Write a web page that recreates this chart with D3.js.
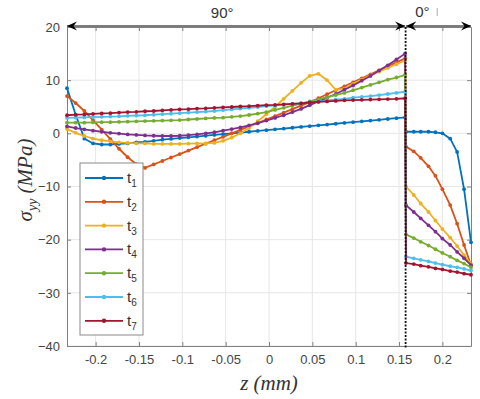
<!DOCTYPE html>
<html>
<head>
<meta charset="utf-8">
<script src="https://cdn.jsdelivr.net/npm/d3@7/dist/d3.min.js"></script>
<style>
  body { margin: 0; background: #fff; }
  svg { display: block; }
  .tick text { font-family: "Liberation Sans", Arial, sans-serif; font-size: 13px; fill: #444; }
</style>
</head>
<body>
<div id="chart"></div>
<script>
// z positions (mm) through the 90 deg ply and the 0 deg ply
var z90 = [-0.233, -0.223, -0.213, -0.203, -0.193, -0.183, -0.173, -0.163, -0.153, -0.143,
  -0.133, -0.123, -0.113, -0.103, -0.093, -0.083, -0.073, -0.063, -0.053, -0.043,
  -0.033, -0.023, -0.013, -0.003, 0.007, 0.017, 0.027, 0.037, 0.047, 0.057,
  0.067, 0.077, 0.087, 0.097, 0.107, 0.117, 0.127, 0.137, 0.147, 0.157];
var z0 = [0.158, 0.167, 0.175, 0.184, 0.192, 0.200, 0.209, 0.217, 0.225, 0.233];

// sigma_yy (MPa), 90 deg ply
var t1_90 = [8.5, 3.5, -1.0, -1.9, -2.1, -2.1, -2.0, -1.9, -1.7, -1.6,
  -1.4, -1.2, -1.05, -0.9, -0.75, -0.6, -0.45, -0.3, -0.15, 0.0,
  0.15, 0.3, 0.45, 0.6, 0.75, 0.9, 1.05, 1.2, 1.35, 1.5,
  1.65, 1.8, 1.95, 2.1, 2.25, 2.4, 2.55, 2.7, 2.85, 3.0];
var t2_90 = [7.0, 5.7, 4.2, 2.5, 0.7, -1.1, -2.9, -4.5, -5.8, -6.5,
  -5.85, -5.2, -4.55, -3.9, -3.25, -2.6, -1.95, -1.3, -0.65, 0.0,
  0.65, 1.3, 1.95, 2.6, 3.25, 3.9, 4.55, 5.2, 5.85, 6.6,
  7.35, 8.1, 8.85, 9.6, 10.35, 11.1, 11.85, 12.6, 13.35, 14.1];
var t3_90 = [0.8, 0.1, -0.5, -1.0, -1.3, -1.5, -1.7, -1.8, -1.9, -1.9,
  -2.0, -2.0, -2.0, -2.0, -1.95, -1.9, -1.9, -1.8, -1.4, -0.8,
  0.0, 1.0, 2.3, 3.6, 5.0, 6.5, 8.0, 9.5, 10.8, 11.2,
  10.0, 8.2, 8.4, 9.3, 10.1, 10.9, 11.6, 12.3, 13.0, 13.7];
var t4_90 = [1.3, 1.0, 0.75, 0.5, 0.3, 0.1, -0.05, -0.2, -0.3, -0.4,
  -0.45, -0.5, -0.5, -0.45, -0.35, -0.2, 0.0, 0.2, 0.5, 0.8,
  1.1, 1.5, 1.9, 2.4, 2.9, 3.4, 4.0, 4.6, 5.3, 6.0,
  6.7, 7.4, 8.2, 9.0, 9.9, 10.8, 11.8, 12.8, 13.9, 15.0];
var t5_90 = [2.0, 2.0, 2.0, 2.05, 2.1, 2.1, 2.15, 2.2, 2.25, 2.3,
  2.35, 2.4, 2.45, 2.5, 2.6, 2.7, 2.8, 2.9, 2.95, 3.1,
  3.25, 3.45, 3.7, 4.0, 4.4, 4.8, 5.2, 5.6, 6.0, 6.4,
  6.8, 7.2, 7.6, 8.1, 8.6, 9.1, 9.6, 10.1, 10.5, 11.0];
var t6_90 = [2.9, 2.95, 3.0, 3.05, 3.1, 3.15, 3.2, 3.3, 3.35, 3.4,
  3.5, 3.6, 3.7, 3.8, 3.9, 4.0, 4.1, 4.2, 4.35, 4.5,
  4.65, 4.8, 4.95, 5.1, 5.25, 5.4, 5.55, 5.7, 5.85, 6.0,
  6.2, 6.35, 6.5, 6.7, 6.85, 7.0, 7.2, 7.4, 7.6, 7.8];
var t7_90 = [3.4, 3.5, 3.55, 3.65, 3.75, 3.8, 3.9, 4.0, 4.05, 4.15,
  4.2, 4.3, 4.4, 4.5, 4.55, 4.65, 4.7, 4.8, 4.9, 4.95,
  5.05, 5.1, 5.2, 5.3, 5.35, 5.45, 5.55, 5.65, 5.8, 5.9,
  6.0, 6.1, 6.2, 6.25, 6.3, 6.35, 6.4, 6.45, 6.5, 6.6];

// sigma_yy (MPa), 0 deg ply
var t1_0 = [0.3, 0.3, 0.3, 0.3, 0.2, 0.0, -1.0, -3.5, -10.5, -20.5];
var t2_0 = [-2.5, -3.4, -4.6, -6.2, -8.0, -10.5, -13.5, -17.0, -21.0, -24.8];
var t3_0 = [-10.0, -11.6, -13.2, -14.8, -16.4, -18.0, -19.6, -21.2, -22.9, -24.6];
var t4_0 = [-13.5, -14.8, -16.0, -17.3, -18.5, -19.8, -21.0, -22.3, -23.5, -24.8];
var t5_0 = [-19.0, -19.7, -20.4, -21.1, -21.8, -22.5, -23.2, -23.9, -24.5, -25.2];
var t6_0 = [-23.2, -23.5, -23.8, -24.1, -24.4, -24.7, -25.0, -25.2, -25.5, -25.8];
var t7_0 = [-24.4, -24.6, -24.9, -25.1, -25.4, -25.6, -25.9, -26.1, -26.4, -26.6];

var seriesNames = ["1", "2", "3", "4", "5", "6", "7"];
var colors = ["#0072BD", "#D95319", "#EDB120", "#7E2F8E", "#77AC30", "#4DBEEE", "#A2142F"];
var xTicks = [-0.2, -0.15, -0.1, -0.05, 0, 0.05, 0.1, 0.15, 0.2];
var yTicks = [-40, -30, -20, -10, 0, 10, 20];
var zInterface = 0.157;

var svgWidth = 480;
var svgHeight = 399;
var margin = { top: 27, right: 9, bottom: 53, left: 67 };
var width = svgWidth - margin.left - margin.right;
var height = svgHeight - margin.top - margin.bottom;

var svg = d3.select("#chart")
  .append("svg")
  .attr("width", svgWidth)
  .attr("height", svgHeight);

var defs = svg.append("defs");
defs.append("marker")
  .attr("id", "head")
  .attr("viewBox", "-10 -5 12 10")
  .attr("markerWidth", 12)
  .attr("markerHeight", 10)
  .attr("markerUnits", "userSpaceOnUse")
  .attr("refX", 0)
  .attr("refY", 0)
  .attr("orient", "auto-start-reverse")
  .append("path")
  .attr("d", "M0,0 L-10,-4.5 L-6.5,0 L-10,4.5 Z")
  .attr("fill", "#000");

var chartGroup = svg.append("g")
  .attr("transform", `translate(${margin.left}, ${margin.top})`);

var xScale = d3.scaleLinear().domain([-0.233, 0.233]).range([0, width]);
var yScale = d3.scaleLinear().domain([-40, 20]).range([height, 0]);

// grid
chartGroup.append("g")
  .selectAll("line")
  .data(xTicks)
  .enter()
  .append("line")
  .attr("x1", d => xScale(d)).attr("x2", d => xScale(d))
  .attr("y1", 0).attr("y2", height)
  .attr("stroke", "#e6e6e6");
chartGroup.append("g")
  .selectAll("line")
  .data(yTicks)
  .enter()
  .append("line")
  .attr("x1", 0).attr("x2", width)
  .attr("y1", d => yScale(d)).attr("y2", d => yScale(d))
  .attr("stroke", "#e6e6e6");

// axes (ticks pointing inward, MATLAB style)
var bottomAxis = d3.axisBottom(xScale).tickValues(xTicks).tickSizeInner(-4).tickSizeOuter(0).tickPadding(9)
  .tickFormat(d => d === 0 ? "0" : String(d));
var leftAxis = d3.axisLeft(yScale).tickValues(yTicks).tickSizeInner(-4).tickSizeOuter(0).tickPadding(7);
var topAxis = d3.axisTop(xScale).tickValues(xTicks).tickSizeInner(-4).tickSizeOuter(0).tickFormat("");
var rightAxis = d3.axisRight(yScale).tickValues(yTicks).tickSizeInner(-4).tickSizeOuter(0).tickFormat("");

var gx = chartGroup.append("g").attr("transform", `translate(0, ${height})`).call(bottomAxis);
var gy = chartGroup.append("g").call(leftAxis);
var gt = chartGroup.append("g").call(topAxis);
var gr = chartGroup.append("g").attr("transform", `translate(${width}, 0)`).call(rightAxis);
[gx, gy, gt, gr].forEach(function(g) {
  g.select(".domain").attr("stroke", "#808080");
  g.selectAll(".tick line").attr("stroke", "#808080");
});

// series
var allSeries = [
  { name: seriesNames[0], v90: t1_90, v0: t1_0 },
  { name: seriesNames[1], v90: t2_90, v0: t2_0 },
  { name: seriesNames[2], v90: t3_90, v0: t3_0 },
  { name: seriesNames[3], v90: t4_90, v0: t4_0 },
  { name: seriesNames[4], v90: t5_90, v0: t5_0 },
  { name: seriesNames[5], v90: t6_90, v0: t6_0 },
  { name: seriesNames[6], v90: t7_90, v0: t7_0 }
];
allSeries.forEach(function(s, i) {
  s.color = colors[i];
  s.points = z90.map((z, j) => [z, s.v90[j]]).concat(z0.map((z, j) => [z, s.v0[j]]));
});

var line = d3.line().x(d => xScale(d[0])).y(d => yScale(d[1]));

var seriesGroup = chartGroup.selectAll(".series")
  .data(allSeries)
  .enter()
  .append("g")
  .attr("class", "series");

seriesGroup.append("path")
  .attr("d", d => line(d.points))
  .attr("fill", "none")
  .attr("stroke", d => d.color)
  .attr("stroke-width", 1.8);

seriesGroup.selectAll("circle")
  .data(d => d.points.map(p => ({ p: p, color: d.color })))
  .enter()
  .append("circle")
  .attr("cx", d => xScale(d.p[0]))
  .attr("cy", d => yScale(d.p[1]))
  .attr("r", 1.9)
  .attr("fill", d => d.color);

// ply interface
chartGroup.append("line")
  .attr("x1", xScale(zInterface) + 0.5).attr("x2", xScale(zInterface) + 0.5)
  .attr("y1", 0).attr("y2", height + 2)
  .attr("stroke", "#111")
  .attr("stroke-width", 1.8)
  .attr("stroke-dasharray", "2,1.5");

// ply arrows on top
var arrowY = -1;
chartGroup.append("line")
  .attr("x1", xScale(-0.233)).attr("x2", xScale(zInterface))
  .attr("y1", arrowY).attr("y2", arrowY)
  .attr("stroke", "#000").attr("stroke-width", 1.2)
  .attr("marker-start", "url(#head)").attr("marker-end", "url(#head)");
chartGroup.append("line")
  .attr("x1", xScale(zInterface) + 1).attr("x2", xScale(0.233))
  .attr("y1", arrowY).attr("y2", arrowY)
  .attr("stroke", "#000").attr("stroke-width", 1.2)
  .attr("marker-start", "url(#head)").attr("marker-end", "url(#head)");

chartGroup.append("text")
  .attr("x", xScale(-0.054)).attr("y", -9)
  .attr("text-anchor", "middle")
  .style("font-family", "Liberation Sans, Arial, sans-serif")
  .style("font-size", "15px")
  .attr("fill", "#333")
  .text("90°");
chartGroup.append("text")
  .attr("x", xScale(0.177)).attr("y", -10)
  .attr("text-anchor", "middle")
  .style("font-family", "Liberation Sans, Arial, sans-serif")
  .style("font-size", "15px")
  .attr("fill", "#333")
  .text("0°");
chartGroup.append("line")
  .attr("x1", xScale(0.194)).attr("x2", xScale(0.194))
  .attr("y1", -19).attr("y2", -11)
  .attr("stroke", "#aaa").attr("stroke-width", 1);

// legend
var legend = chartGroup.append("g")
  .attr("transform", "translate(13, 136)");
legend.append("rect")
  .attr("width", 63).attr("height", 172)
  .attr("fill", "#fff")
  .attr("stroke", "#8a8a8a")
  .attr("stroke-width", 1);
var legendItem = legend.selectAll(".item")
  .data(allSeries)
  .enter()
  .append("g")
  .attr("transform", (d, i) => `translate(0, ${15 + i * 23.8})`);
legendItem.append("line")
  .attr("x1", 5).attr("x2", 43)
  .attr("stroke", d => d.color).attr("stroke-width", 1.8);
legendItem.append("circle")
  .attr("cx", 24).attr("r", 2.2)
  .attr("fill", d => d.color);
var lt = legendItem.append("text")
  .attr("x", 47).attr("y", 5)
  .style("font-family", "Liberation Sans, Arial, sans-serif")
  .style("font-size", "15px")
  .attr("fill", "#333");
lt.append("tspan").text("t");
lt.append("tspan").attr("dy", 4).style("font-size", "10px").text(d => d.name);

// axis labels
svg.append("text")
  .attr("transform", "translate(32, 180) rotate(-90)")
  .attr("text-anchor", "middle")
  .style("font-family", "Liberation Serif, DejaVu Serif, serif")
  .style("font-style", "italic")
  .style("font-size", "21px")
  .attr("fill", "#333")
  .call(function(t) {
    t.append("tspan").text("σ");
    t.append("tspan").attr("dy", 5).style("font-size", "14px").text("yy");
    t.append("tspan").attr("dy", -5).text(" (MPa)");
  });

svg.append("text")
  .attr("x", margin.left + xScale(0)).attr("y", 390)
  .attr("text-anchor", "middle")
  .style("font-family", "Liberation Serif, DejaVu Serif, serif")
  .style("font-style", "italic")
  .style("font-size", "21px")
  .attr("fill", "#333")
  .text("z (mm)");
</script>
</body>
</html>
